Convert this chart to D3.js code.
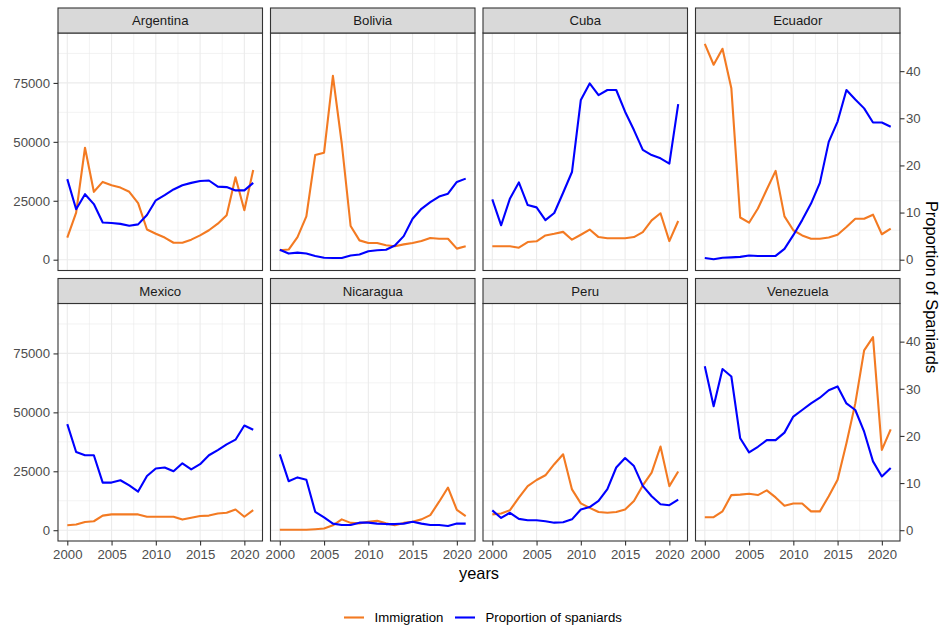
<!DOCTYPE html>
<html>
<head>
<meta charset="utf-8">
<script src="https://cdn.jsdelivr.net/npm/d3@7"></script>
<style>
  body { margin: 0; background: #ffffff; }
  svg text { font-family: "Liberation Sans", Arial, sans-serif; }
</style>
</head>
<body>
<svg id="chart" width="940" height="628"></svg>
<script>
// ---- data ---------------------------------------------------------------
const years = [2000, 2001, 2002, 2003, 2004, 2005, 2006, 2007, 2008, 2009, 2010,
               2011, 2012, 2013, 2014, 2015, 2016, 2017, 2018, 2019, 2020, 2021];

const countries = ["Argentina", "Bolivia", "Cuba", "Ecuador",
                   "Mexico", "Nicaragua", "Peru", "Venezuela"];

// Yearly immigration (persons)
const argentinaImmigration = [9400, 20000, 47500, 28800, 33000, 31600, 30600, 28800, 24000, 12800, 11000,
                              9400, 7200, 7200, 8500, 10300, 12500, 15300, 18900, 35000, 21000, 38100];
const boliviaImmigration   = [4000, 4300, 9600, 18400, 44400, 45400, 78000, 49300, 14300, 8200, 7100,
                              7100, 6100, 5700, 6500, 7100, 7900, 9200, 8900, 8900, 4700, 5700];
const cubaImmigration      = [5700, 5700, 5700, 5100, 7500, 7800, 10300, 11000, 11800, 8500, 10600,
                              12800, 9600, 9100, 9100, 9100, 9600, 11700, 16700, 19700, 7900, 16400];
const ecuadorImmigration   = [91600, 82700, 89500, 72700, 17900, 15700, 21700, 29800, 37700, 18400, 12500,
                              10300, 8900, 8900, 9400, 10600, 13900, 17400, 17400, 19100, 10800, 13200];
const mexicoImmigration    = [2100, 2400, 3500, 3800, 6200, 6700, 6700, 6700, 6700, 5700, 5700,
                              5700, 5700, 4500, 5300, 6000, 6200, 7100, 7400, 8800, 5700, 8500];
const nicaraguaImmigration = [200, 200, 200, 200, 430, 700, 2100, 4600, 3100, 2900, 3600,
                              4000, 2900, 2100, 3100, 3600, 4600, 6400, 12100, 18100, 8600, 6000];
const peruImmigration      = [6700, 7100, 8500, 13800, 18700, 21300, 23300, 28000, 32200, 17300, 11400,
                              9500, 7700, 7400, 7700, 8800, 12400, 19000, 24400, 35500, 18700, 24900];
const venezuelaImmigration = [5500, 5500, 8000, 14900, 15100, 15500, 14900, 16900, 13900, 10400, 11300,
                              11300, 8000, 8000, 14400, 21400, 36900, 53800, 76300, 81900, 34100, 42800];

// Proportion of spaniards (%)
const argentinaProportion = [17.1, 10.7, 13.9, 11.8, 7.9, 7.8, 7.6, 7.2, 7.5, 9.5, 12.6,
                             13.7, 14.9, 15.8, 16.3, 16.7, 16.8, 15.5, 15.4, 14.7, 14.7, 16.3];
const boliviaProportion   = [2.1, 1.3, 1.5, 1.3, 0.8, 0.4, 0.35, 0.35, 0.9, 1.1, 1.8,
                             2.0, 2.1, 3.0, 5.0, 8.7, 10.8, 12.2, 13.4, 14.0, 16.5, 17.2];
const cubaProportion      = [12.8, 7.3, 13.0, 16.4, 11.6, 11.1, 8.4, 9.9, 14.2, 18.6, 33.9,
                             37.4, 34.9, 36.0, 36.0, 31.4, 27.5, 23.3, 22.2, 21.5, 20.4, 33.0];
const ecuadorProportion   = [0.35, 0.1, 0.4, 0.5, 0.6, 0.9, 0.8, 0.8, 0.8, 2.3, 5.2,
                             8.4, 11.9, 16.3, 25.0, 29.3, 36.0, 34.0, 32.1, 29.1, 29.1, 28.2];
const mexicoProportion    = [22.5, 16.6, 15.9, 15.9, 10.1, 10.1, 10.6, 9.5, 8.2, 11.5, 13.1,
                             13.3, 12.5, 14.2, 12.9, 14.0, 15.9, 17.0, 18.2, 19.2, 22.2, 21.3];
const nicaraguaProportion = [16.1, 10.4, 11.2, 10.7, 3.9, 2.7, 1.4, 1.1, 1.1, 1.6, 1.6,
                             1.4, 1.3, 1.3, 1.4, 1.8, 1.4, 1.1, 1.1, 0.9, 1.4, 1.4];
const peruProportion      = [4.2, 2.6, 3.7, 2.4, 2.1, 2.1, 1.9, 1.6, 1.7, 2.3, 4.4,
                             4.9, 6.2, 8.7, 13.3, 15.3, 13.6, 9.4, 7.2, 5.5, 5.3, 6.5];
const venezuelaProportion = [34.8, 26.3, 34.2, 32.6, 19.5, 16.5, 17.7, 19.1, 19.1, 20.7, 24.1,
                             25.5, 26.9, 28.1, 29.7, 30.5, 26.9, 25.5, 20.9, 14.6, 11.4, 13.2];

const leftTicks  = [0, 25000, 50000, 75000];
const rightTicks = [0, 10, 20, 30, 40];
const yearTicks  = [2000, 2005, 2010, 2015, 2020];
const seriesNames = ["Immigration", "Proportion of spaniards"];

// secondary axis: proportion is drawn on the immigration scale times this factor
const SEC_FACTOR = 2000;

const immigrationByCountry = [argentinaImmigration, boliviaImmigration, cubaImmigration, ecuadorImmigration,
                              mexicoImmigration, nicaraguaImmigration, peruImmigration, venezuelaImmigration];
const proportionByCountry  = [argentinaProportion, boliviaProportion, cubaProportion, ecuadorProportion,
                              mexicoProportion, nicaraguaProportion, peruProportion, venezuelaProportion];

// ---- layout -------------------------------------------------------------
const COL_ORANGE = "#F37A22";
const COL_BLUE = "#0000FF";
const GRID = "#EBEBEB";
const BORDER = "#333333";
const TICK_TEXT = "#4D4D4D";
const FONT_SMALL = 13.2;
const FONT_TITLE = 16.4;

const panelX0 = 58, panelW = 204.5, gapX = 8;
const rowTops = [33, 303.5], panelH = 237.5, stripH = 25;

const svg = d3.select("#chart");

// shared scales (5% expansion on each side)
function expand(ext) {
  const pad = (ext[1] - ext[0]) * 0.05;
  return [ext[0] - pad, ext[1] + pad];
}
const allValues = [];
countries.forEach((c, i) => {
  immigrationByCountry[i].forEach(v => allValues.push(v));
  proportionByCountry[i].forEach(v => allValues.push(v * SEC_FACTOR));
});
const yDomain = expand([0, d3.max(allValues)]);
const x = d3.scaleLinear().domain(expand(d3.extent(years))).range([0, panelW]);
const y = d3.scaleLinear().domain(yDomain).range([panelH, 0]);
const ySec = d3.scaleLinear().domain(yDomain.map(v => v / SEC_FACTOR)).range([panelH, 0]);

const majorX = yearTicks;
const minorX = [2002.5, 2007.5, 2012.5, 2017.5];
const majorY = leftTicks;
const minorY = [12500, 37500, 62500, 87500];

const lineImm = d3.line().x(d => x(d.year)).y(d => y(d.value));
const lineProp = d3.line().x(d => x(d.year)).y(d => y(d.value * SEC_FACTOR));

countries.forEach((country, i) => {
  const col = i % 4, row = Math.floor(i / 4);
  const px = panelX0 + col * (panelW + gapX);
  const py = rowTops[row];
  const g = svg.append("g").attr("transform", `translate(${px},${py})`);

  // strip
  svg.append("rect")
    .attr("x", px).attr("y", py - stripH).attr("width", panelW).attr("height", stripH)
    .attr("fill", "#D9D9D9").attr("stroke", BORDER).attr("stroke-width", 1.1);
  svg.append("text")
    .attr("x", px + panelW / 2).attr("y", py - stripH / 2)
    .attr("text-anchor", "middle").attr("dominant-baseline", "central")
    .attr("font-size", FONT_SMALL).attr("fill", "#1A1A1A")
    .text(country);

  // panel background and grid
  g.append("rect").attr("width", panelW).attr("height", panelH).attr("fill", "#ffffff");
  g.selectAll(".minx").data(minorX).join("line")
    .attr("x1", d => x(d)).attr("x2", d => x(d)).attr("y1", 0).attr("y2", panelH)
    .attr("stroke", GRID).attr("stroke-width", 0.6);
  g.selectAll(".miny").data(minorY).join("line")
    .attr("y1", d => y(d)).attr("y2", d => y(d)).attr("x1", 0).attr("x2", panelW)
    .attr("stroke", GRID).attr("stroke-width", 0.6);
  g.selectAll(".majx").data(majorX).join("line")
    .attr("x1", d => x(d)).attr("x2", d => x(d)).attr("y1", 0).attr("y2", panelH)
    .attr("stroke", GRID).attr("stroke-width", 1.1);
  g.selectAll(".majy").data(majorY).join("line")
    .attr("y1", d => y(d)).attr("y2", d => y(d)).attr("x1", 0).attr("x2", panelW)
    .attr("stroke", GRID).attr("stroke-width", 1.1);

  // series
  const imm = years.map((yr, k) => ({ year: yr, value: immigrationByCountry[i][k] }));
  const prop = years.map((yr, k) => ({ year: yr, value: proportionByCountry[i][k] }));
  g.append("path").datum(imm).attr("d", lineImm)
    .attr("fill", "none").attr("stroke", COL_ORANGE).attr("stroke-width", 2.1)
    .attr("stroke-linejoin", "round");
  g.append("path").datum(prop).attr("d", lineProp)
    .attr("fill", "none").attr("stroke", COL_BLUE).attr("stroke-width", 2.1)
    .attr("stroke-linejoin", "round");

  // border
  g.append("rect").attr("width", panelW).attr("height", panelH)
    .attr("fill", "none").attr("stroke", BORDER).attr("stroke-width", 1.1);

  // axes
  if (col === 0) {
    const ax = g.append("g")
      .call(d3.axisLeft(y).tickValues(leftTicks).tickFormat(d3.format("d")).tickSize(4.5).tickPadding(3.5));
    styleAxis(ax);
  }
  if (col === 3) {
    const ax = g.append("g").attr("transform", `translate(${panelW},0)`)
      .call(d3.axisRight(ySec).tickValues(rightTicks).tickFormat(d3.format("d")).tickSize(4.5).tickPadding(1.5));
    styleAxis(ax);
  }
  if (row === 1) {
    const ax = g.append("g").attr("transform", `translate(0,${panelH})`)
      .call(d3.axisBottom(x).tickValues(yearTicks).tickFormat(d3.format("d")).tickSize(4.5).tickPadding(3.8));
    styleAxis(ax);
  }
});

function styleAxis(ax) {
  ax.select(".domain").remove();
  ax.selectAll(".tick line").attr("stroke", BORDER).attr("stroke-width", 1.1);
  ax.selectAll(".tick text").attr("fill", TICK_TEXT).attr("font-size", FONT_SMALL)
    .attr("font-family", "'Liberation Sans', Arial, sans-serif");
}

// axis titles
const plotCenterX = panelX0 + (4 * panelW + 3 * gapX) / 2;
svg.append("text")
  .attr("x", plotCenterX).attr("y", 579)
  .attr("text-anchor", "middle").attr("font-size", FONT_TITLE).attr("fill", "#000")
  .text("years");

const centerY = (rowTops[0] + rowTops[1] + panelH) / 2;
svg.append("text")
  .attr("transform", `translate(925.5,${centerY}) rotate(90)`)
  .attr("text-anchor", "middle").attr("font-size", FONT_TITLE).attr("fill", "#000")
  .text("Proportion of Spaniards");

// legend
const legendItems = [
  { name: seriesNames[0], color: COL_ORANGE, x: 344 },
  { name: seriesNames[1], color: COL_BLUE, x: 455 }
];
const lg = svg.append("g").attr("transform", "translate(0,617.5)");
legendItems.forEach(it => {
  lg.append("line").attr("x1", it.x).attr("x2", it.x + 20).attr("y1", 0).attr("y2", 0)
    .attr("stroke", it.color).attr("stroke-width", 2.1);
  lg.append("text").attr("x", it.x + 30.5).attr("y", 0)
    .attr("dominant-baseline", "central").attr("font-size", FONT_SMALL).attr("fill", "#000")
    .text(it.name);
});
</script>
</body>
</html>
